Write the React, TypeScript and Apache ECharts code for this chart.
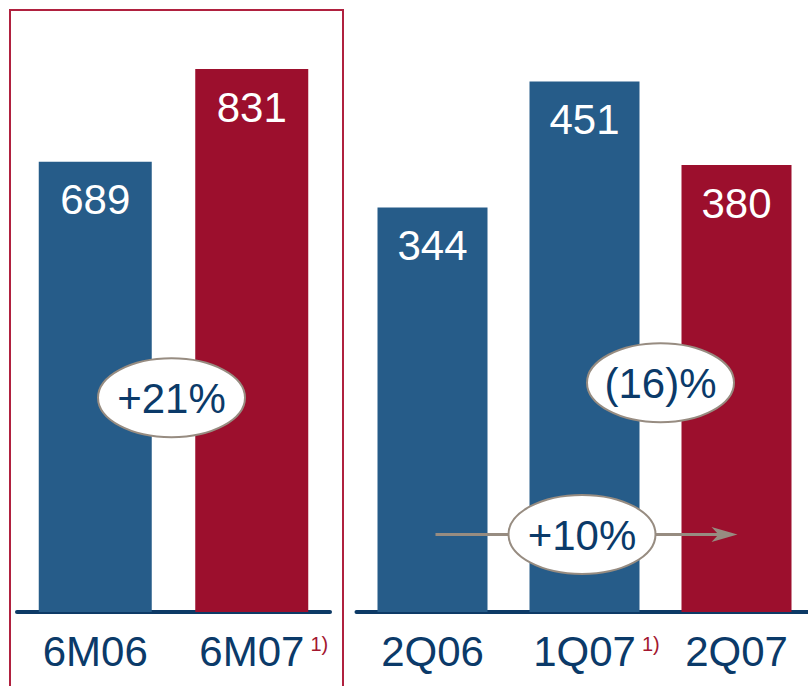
import React, { useEffect, useRef } from "react";
import * as echarts from "echarts";

// ---- data ----
const halfYearCats = ["6M06", "6M07"];
const halfYearNotes = ["", "1)"];
const halfYearValues = [689, 831];
const quarterCats = ["2Q06", "1Q07", "2Q07"];
const quarterNotes = ["", "1)", ""];
const quarterValues = [344, 451, 380];
const halfYearChange = "+21%";
const qoqChange = "(16)%";
const yoyChange = "+10%";

// ---- style ----
const BLUE = "#265C89";
const RED = "#9C0F2D";
const NAVY = "#0B3A69";
const AXIS = "#0D3A66";
const GREY = "#978C81";
const FONT = "'Liberation Sans', Arial, Helvetica, sans-serif";

function labelFormatter(notes: string[]) {
  return (value: string, index: number) =>
    notes[index]
      ? `{pad|}{main|${value}}{sup|${notes[index]}}`
      : `{main|${value}}`;
}

const richLabel = {
  main: { fontSize: 42, color: NAVY, fontFamily: FONT },
  pad: { width: 24, fontSize: 20 },
  sup: {
    fontSize: 20,
    color: "#A3172F",
    fontFamily: FONT,
    verticalAlign: "top",
    padding: [4, 0, 0, 6],
  },
};

function xAxisDef(gridIndex: number, cats: string[], notes: string[]) {
  return {
    type: "category",
    gridIndex,
    data: cats,
    axisLine: {
      show: true,
      lineStyle: { color: AXIS, width: 4, cap: "round" },
    },
    axisTick: { show: false },
    axisLabel: {
      interval: 0,
      hideOverlap: false,
      margin: 18,
      fontSize: 42,
      color: NAVY,
      fontFamily: FONT,
      formatter: labelFormatter(notes),
      rich: richLabel,
    },
  };
}

function barSeries(idx: number, values: number[], colors: string[], width: number) {
  return {
    type: "bar",
    xAxisIndex: idx,
    yAxisIndex: idx,
    barWidth: width,
    data: values.map((v, i) => ({ value: v, itemStyle: { color: colors[i] } })),
    label: {
      show: true,
      position: "insideTop",
      distance: 17,
      color: "#FFFFFF",
      fontSize: 42,
      fontFamily: FONT,
    },
  };
}

function pill(cx: number, cy: number, text: string) {
  return [
    {
      type: "ellipse",
      shape: { cx, cy, rx: 73.5, ry: 39.5 },
      style: { fill: "#FFFFFF", stroke: GREY, lineWidth: 2 },
      z: 10,
    },
    {
      type: "text",
      x: cx,
      y: cy + 1,
      style: {
        text,
        fill: NAVY,
        font: `42px ${FONT}`,
        align: "center",
        verticalAlign: "middle",
      },
      z: 11,
    },
  ];
}

export default function App() {
  const ref = useRef<HTMLDivElement>(null);
  useEffect(() => {
    if (!ref.current) return;
    const chart = echarts.init(ref.current, null, { renderer: "svg" });
    chart.setOption({
      animation: false,
      backgroundColor: "#FFFFFF",
      textStyle: { fontFamily: FONT },
      grid: [
        { left: 17, width: 313, top: 24, bottom: 74 },
        { left: 356.5, width: 456, top: 24, bottom: 74 },
      ],
      xAxis: [
        xAxisDef(0, halfYearCats, halfYearNotes),
        xAxisDef(1, quarterCats, quarterNotes),
      ],
      yAxis: [
        { type: "value", gridIndex: 0, min: 0, max: 900, show: false, splitLine: { show: false } },
        { type: "value", gridIndex: 1, min: 0, max: 500, show: false, splitLine: { show: false } },
      ],
      series: [
        barSeries(0, halfYearValues, [BLUE, RED], 113),
        barSeries(1, quarterValues, [BLUE, BLUE, RED], 110),
      ],
    });

    // annotations positioned via the axes
    const p = (g: number, cat: number, val: number) =>
      chart.convertToPixel({ xAxisIndex: g, yAxisIndex: g }, [cat, val]) as number[];
    const h0 = p(0, 0, 0);
    const h1 = p(0, 1, 0);
    const q0 = p(1, 0, 0);
    const q1 = p(1, 1, 0);
    const q2 = p(1, 2, 0);
    const yHalf = p(0, 0, 328)[1];
    const yQoq = p(1, 0, 195)[1];
    const yYoy = p(1, 0, 66)[1];

    const arrowEnd = q2[0] + 1;
    chart.setOption({
      graphic: [
        {
          type: "rect",
          shape: { x: 10, y: 10, width: 333, height: 700 },
          style: { fill: "none", stroke: "#B0213F", lineWidth: 2 },
          z: 5,
        },
        {
          type: "line",
          shape: { x1: q0[0] + 3, y1: yYoy, x2: arrowEnd - 14, y2: yYoy },
          style: { stroke: GREY, lineWidth: 3 },
          z: 9,
        },
        {
          type: "polygon",
          shape: {
            points: [
              [arrowEnd, yYoy],
              [arrowEnd - 26, yYoy - 7.5],
              [arrowEnd - 19, yYoy],
              [arrowEnd - 26, yYoy + 7.5],
            ],
          },
          style: { fill: GREY },
          z: 9,
        },
        ...pill((h0[0] + h1[0]) / 2 - 2, yHalf, halfYearChange),
        ...pill((q1[0] + q2[0]) / 2, yQoq, qoqChange),
        ...pill(q1[0] - 2.5, yYoy, yoyChange),
      ],
    });
    return () => chart.dispose();
  }, []);
  return (
    <div
      style={{
        position: "absolute",
        left: 0,
        top: 0,
        width: 808,
        height: 686,
        overflow: "hidden",
      }}
    >
      <div ref={ref} style={{ width: 820, height: 686 }} />
    </div>
  );
}
